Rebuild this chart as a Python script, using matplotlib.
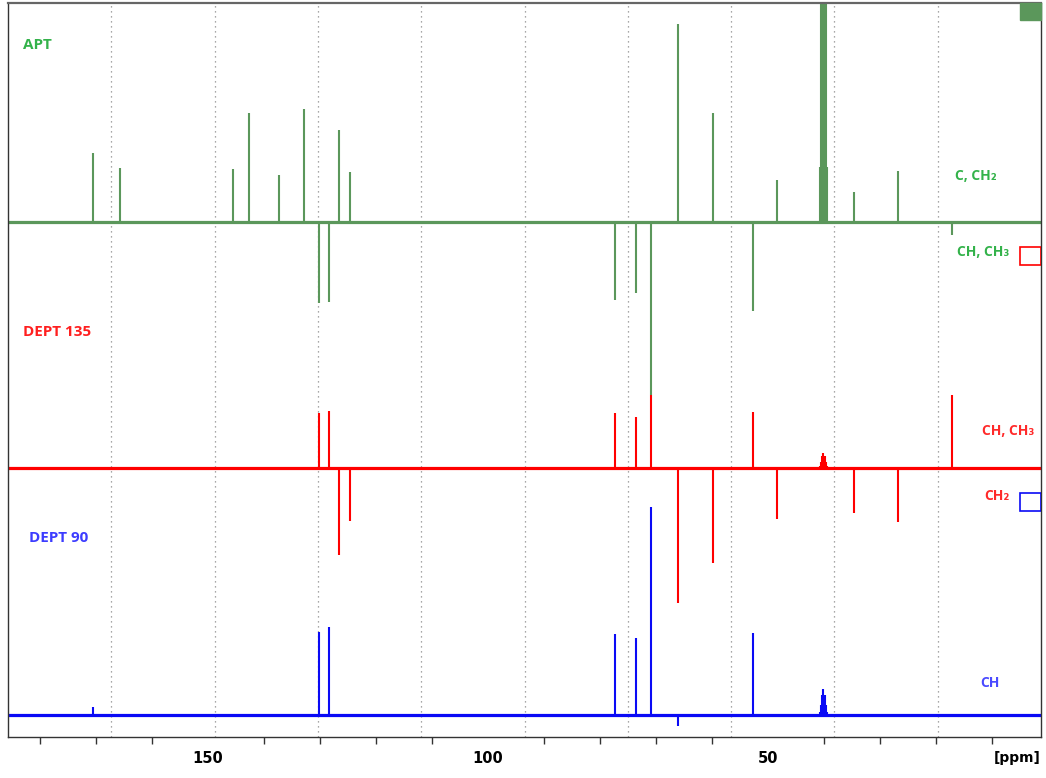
import matplotlib
matplotlib.use("Agg")
import matplotlib.pyplot as plt
import numpy as np
from matplotlib.patches import Rectangle
from matplotlib.ticker import FixedLocator

# 13C spectra: peak shift (ppm) and signed intensity (approx. screen px)
APT_PPM = [170.6, 165.7, 145.5, 142.7, 137.3, 132.9, 130.1, 128.4, 126.6, 124.7,
           77.3, 73.6, 70.9, 66.1, 59.9, 52.7, 48.4, 34.6, 26.8, 17.1]
APT_INT = [69, 54, 53, 109, 47, 113, -81, -80, 92, 50,
           -78, -71, -173, 198, 109, -89, 42, 30, 51, -13]

DEPT135_PPM = [130.1, 128.4, 126.6, 124.7, 77.3, 73.6, 70.9, 66.1,
               59.9, 52.7, 48.4, 34.6, 26.8, 17.1]
DEPT135_INT = [55, 57, -87, -53, 55, 51, 73, -135,
               -95, 56, -51, -45, -54, 73]

DEPT90_PPM = [170.6, 130.1, 128.4, 77.3, 73.6, 70.9, 66.1, 52.7]
DEPT90_INT = [8, 83, 88, 81, 77, 208, -11, 82]

# DMSO-d6 septet
SOLVENT_PPM = [40.73, 40.52, 40.31, 40.10, 39.89, 39.68, 39.47]
APT_SOLV = [55, 300, 300, 300, 300, 300, 55]
DEPT135_SOLV = [2, 6, 12, 15, 12, 6, 2]
DEPT90_SOLV = [3, 10, 20, 26, 20, 10, 3]

MAJOR_TICKS = [150, 100, 50]
MINOR_TICKS = [180, 170, 160, 140, 130, 120, 110, 90, 80, 70, 60, 40, 30, 20, 10]

GREEN = "#5b975b"
RED = "#ff0000"
BLUE = "#0a0af5"

spectra = [
    # name, ppm, intensities, solvent, offset, colour
    ("APT", APT_PPM, APT_INT, APT_SOLV, 493, GREEN),
    ("DEPT 135", DEPT135_PPM, DEPT135_INT, DEPT135_SOLV, 247, RED),
    ("DEPT 90", DEPT90_PPM, DEPT90_INT, DEPT90_SOLV, 0, BLUE),
]

fig = plt.figure(figsize=(10.46, 7.78), dpi=100)
ax = fig.add_axes([8 / 1046, 1 - 737 / 778, 1033 / 1046, 734 / 778])

# dotted grid: ten equal divisions of the frame
for f in np.arange(1, 10) / 10:
    ax.plot([f, f], [0, 1], transform=ax.transAxes, color="#8a8a8a",
            lw=0.9, ls=(0, (1, 3)), zorder=0.5)

for name, ppm, inten, solv, off, color in spectra:
    ax.axhline(off, color=color, lw=2.3, zorder=2)
    ax.vlines(ppm, off, off + np.array(inten), color=color, lw=1.5, zorder=2)
    ax.vlines(SOLVENT_PPM, off, off + np.array(solv), color=color, lw=1.5, zorder=2)

ax.set_xlim(185.7, 1.25)
ax.set_ylim(-22, 712)

# labels
fam = ["Open Sans", "DejaVu Sans"]
ax.text(183.0, 670, "APT", color="#33b24a", fontsize=11, fontweight="bold",
        family=fam, va="center", ha="left")
ax.text(183.0, 383, "DEPT 135", color="#ff1f1f", fontsize=11, fontweight="bold",
        family=fam, va="center", ha="left")
ax.text(182.0, 177, "DEPT 90", color="#3c3cff", fontsize=11, fontweight="bold",
        family=fam, va="center", ha="left")

ax.text(16.6, 539, "C, CH\u2082", color="#33b24a", fontsize=10, fontweight="bold",
        family=fam, va="center", ha="left")
ax.text(16.3, 463, "CH, CH\u2083", color="#33b24a", fontsize=10, fontweight="bold",
        family=fam, va="center", ha="left")
ax.text(11.8, 284, "CH, CH\u2083", color="#ff2a2a", fontsize=10, fontweight="bold",
        family=fam, va="center", ha="left")
ax.text(11.4, 219, "CH\u2082", color="#ff2a2a", fontsize=10, fontweight="bold",
        family=fam, va="center", ha="left")
ax.text(12.1, 32, "CH", color="#4a4aff", fontsize=10, fontweight="bold",
        family=fam, va="center", ha="left")

# legend boxes at the right edge
ax.add_patch(Rectangle((0.98, 0.977), 0.02, 0.023, transform=ax.transAxes,
                       facecolor=GREEN, edgecolor=GREEN, clip_on=False, zorder=3))
ax.add_patch(Rectangle((0.98, 0.643), 0.02, 0.025, transform=ax.transAxes,
                       facecolor="none", edgecolor=RED, lw=1.2, zorder=3))
ax.add_patch(Rectangle((0.98, 0.308), 0.02, 0.025, transform=ax.transAxes,
                       facecolor="none", edgecolor=BLUE, lw=1.2, zorder=3))

# axes
ax.set_yticks([])
ax.xaxis.set_major_locator(FixedLocator(MAJOR_TICKS))
ax.xaxis.set_minor_locator(FixedLocator(MINOR_TICKS))
ax.tick_params(axis="x", which="major", length=0, pad=10, labelsize=10.5)
ax.tick_params(axis="x", which="minor", length=5, width=1, color="#333333",
               direction="out")
for lab in ax.get_xticklabels():
    lab.set_fontweight("bold")
ax.text(1.0, -0.029, "[ppm]", transform=ax.transAxes, ha="right", va="center",
        fontsize=10, fontweight="bold")

for side in ["left", "bottom", "right"]:
    ax.spines[side].set_color("#333333")
    ax.spines[side].set_linewidth(1.0)
ax.spines["top"].set_color("#666666")
ax.spines["top"].set_linewidth(1.6)

fig.savefig("out.png", dpi=100)
plt.close(fig)
